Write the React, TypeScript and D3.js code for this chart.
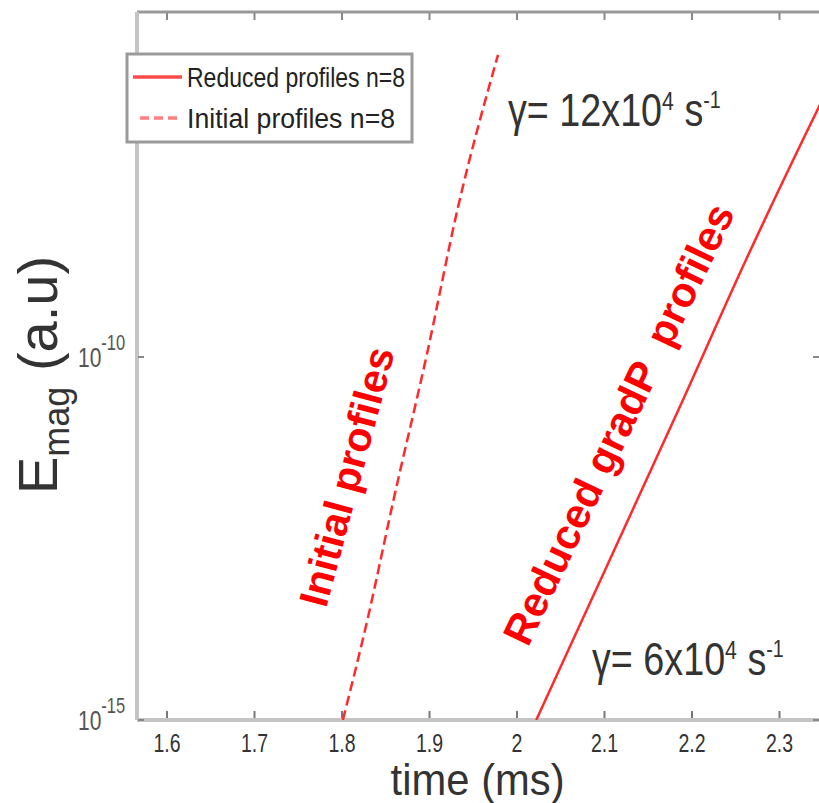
import React from "react";
import * as d3 from "d3";

const W = 819;
const H = 803;

const xTicks = [1.6, 1.7, 1.8, 1.9, 2.0, 2.1, 2.2, 2.3];
const xTickLabels = ["1.6", "1.7", "1.8", "1.9", "2", "2.1", "2.2", "2.3"];
const yTicks = [1e-15, 1e-10];
const yTickExponents = ["-15", "-10"];

// Initial profiles n=8 (dashed)
const initialTime = [1.801, 1.8297, 1.8583, 1.8971, 1.9326, 1.9783];
const initialEmag = [1.0e-15, 2.6e-14, 1.0e-12, 1.1e-10, 1.16e-8, 1.45e-6];

// Reduced profiles n=8 (solid)
const reducedTime = [2.022, 2.0583, 2.1886, 2.2611, 2.3451, 2.36];
const reducedEmag = [1.0e-15, 9.0e-15, 2.4e-11, 2.1e-9, 2.8e-7, 6.5e-7];

const legendLabels = ["Reduced profiles n=8", "Initial profiles n=8"];

const PL = 137, PR = 820, PT = 12, PB = 720;

export default function App() {
  const x = d3.scaleLinear().domain([1.5657, 2.3463]).range([PL, PR]);
  const y = d3.scaleLog().domain([1e-15, Math.pow(10, -5.248)]).range([PB, PT]);

  const line = d3
    .line<[number, number]>()
    .x((d) => x(d[0]))
    .y((d) => y(d[1]))
    .curve(d3.curveMonotoneX);

  const initPts = initialTime.map((t, i) => [t, initialEmag[i]] as [number, number]);
  const redPts = reducedTime.map((t, i) => [t, reducedEmag[i]] as [number, number]);

  const red = "#ff2a2a";
  const grayTxt = "#333";
  const narrow = "'Liberation Sans', Arial, sans-serif";

  return (
    <svg
      width={W}
      height={H}
      style={{ position: "absolute", left: 0, top: 0, background: "#fff" }}
    >
      <defs>
        <clipPath id="plotclip">
          <rect x={PL} y={PT} width={PR - PL} height={PB - PT} />
        </clipPath>
      </defs>
      <rect x={0} y={0} width={W} height={H} fill="#fff" />

      {/* frame */}
      <line x1={PL} y1={PT} x2={PR} y2={PT} stroke="#999" strokeWidth={3} />
      <line x1={PL} y1={PB} x2={PR} y2={PB} stroke="#c4c4c4" strokeWidth={4} />
      <line x1={PL} y1={PT} x2={PL} y2={PB} stroke="#c4c4c4" strokeWidth={4} />

      {/* x ticks */}
      {xTicks.map((t, i) => (
        <g key={"xt" + i}>
          <line x1={x(t)} x2={x(t)} y1={PB - 2} y2={PB - 9} stroke="#777" strokeWidth={2} />
          <line x1={x(t)} x2={x(t)} y1={PT + 1} y2={PT + 8} stroke="#888" strokeWidth={2} />
          <g transform={`translate(${x(t)},${PB + 32}) scale(0.78,1)`}>
            <text textAnchor="middle" fontFamily={narrow} fontSize={25} fill={grayTxt}>
              {xTickLabels[i]}
            </text>
          </g>
        </g>
      ))}

      {/* y ticks */}
      {yTicks.map((v, i) => (
        <g key={"yt" + i}>
          <line x1={PL + 1} x2={PL + 7} y1={y(v)} y2={y(v)} stroke="#888" strokeWidth={2} />
          <line x1={PR - 7} x2={PR} y1={y(v)} y2={y(v)} stroke="#888" strokeWidth={2} />
          <g transform={`translate(78,${y(v) + 10}) scale(0.75,1)`}>
            <text fontFamily={narrow} fontSize={28} fill="#555">
              10
              <tspan dy={-17} fontSize={22}>
                {yTickExponents[i]}
              </tspan>
            </text>
          </g>
        </g>
      ))}

      {/* curves */}
      <g clipPath="url(#plotclip)">
        <path d={line(initPts) || ""} fill="none" stroke={red} strokeWidth={2.5} strokeDasharray="10,5" />
        <path d={line(redPts) || ""} fill="none" stroke={red} strokeWidth={2.5} />
      </g>

      {/* axis titles */}
      <g transform={`translate(${x(1.955)},795) scale(0.95,1)`}>
        <text textAnchor="middle" fontFamily={narrow} fontSize={44} fill={grayTxt}>
          time (ms)
        </text>
      </g>
      <g transform="translate(57,375) rotate(-90)">
        <text textAnchor="middle" fontFamily={narrow} fontSize={56} fill={grayTxt}>
          E
          <tspan dy={12} fontSize={36}>mag</tspan>
          <tspan dy={-12} fontSize={56}> (a.u)</tspan>
        </text>
      </g>

      {/* gamma annotations */}
      <g transform="translate(508,126) scale(0.82,1)">
        <text fontFamily={narrow} fontSize={46} fill={grayTxt}>
          γ= 12x10
          <tspan dy={-16} fontSize={26}>4</tspan>
          <tspan dy={16} fontSize={46}> s</tspan>
          <tspan dy={-18} fontSize={24}>-1</tspan>
        </text>
      </g>
      <g transform="translate(592,675) scale(0.82,1)">
        <text fontFamily={narrow} fontSize={46} fill={grayTxt}>
          γ= 6x10
          <tspan dy={-16} fontSize={26}>4</tspan>
          <tspan dy={16} fontSize={46}> s</tspan>
          <tspan dy={-18} fontSize={24}>-1</tspan>
        </text>
      </g>

      {/* rotated red labels */}
      <text
        transform="translate(326,609) rotate(-75)"
        fontFamily="'Liberation Sans', Arial, sans-serif"
        fontWeight="bold"
        fontSize={41}
        fill="#ff0000"
      >
        Initial profiles
      </text>
      <text
        transform="translate(528,648) rotate(-64.5)"
        fontFamily="'Liberation Sans', Arial, sans-serif"
        fontWeight="bold"
        fontSize={42}
        fill="#ff0000"
        style={{ whiteSpace: "pre" }}
      >
        {"Reduced gradP  profiles"}
      </text>

      {/* legend */}
      <rect x={127} y={54} width={285} height={88} fill="#fff" stroke="#9a9a9a" strokeWidth={3} />
      <line x1={133} x2={182} y1={77} y2={77} stroke="#ff4a4a" strokeWidth={3.5} />
      <line x1={140} x2={182} y1={118} y2={118} stroke="#ff8080" strokeWidth={3.5} strokeDasharray="9,5" />
      <text x={187} y={87} fontFamily={narrow} fontSize={27} fill="#222" textLength={218} lengthAdjust="spacingAndGlyphs">
        {legendLabels[0]}
      </text>
      <text x={187} y={128} fontFamily={narrow} fontSize={27} fill="#222" textLength={208} lengthAdjust="spacingAndGlyphs">
        {legendLabels[1]}
      </text>
    </svg>
  );
}
